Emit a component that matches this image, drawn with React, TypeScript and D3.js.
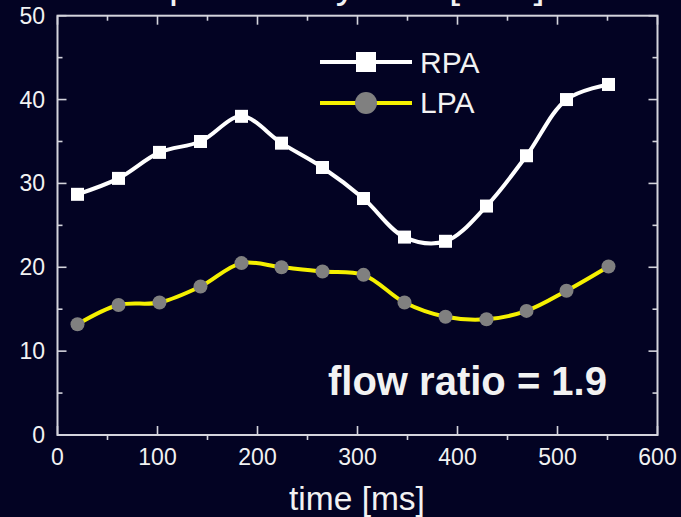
import React from "react";
import * as d3 from "d3";

const timesMs = [20, 61, 102, 143, 184, 224, 265, 306, 347, 388, 429, 469, 509, 551];
const rpaValues = [28.7, 30.6, 33.7, 35.0, 38.0, 34.8, 31.9, 28.2, 23.6, 23.1, 27.3, 33.3, 40.0, 41.8];
const lpaValues = [13.2, 15.5, 15.8, 17.7, 20.5, 20.0, 19.5, 19.1, 15.8, 14.1, 13.8, 14.8, 17.2, 20.1];
const xTickValues = [0, 100, 200, 300, 400, 500, 600];
const xMinorValues = [50, 150, 250, 350, 450, 550];
const yTickValues = [0, 10, 20, 30, 40, 50];
const yMinorValues = [5, 15, 25, 35, 45];
const seriesNames = ["RPA", "LPA"];

const W = 681;
const H = 517;
const M = { left: 57.5, right: 657.5, top: 15.7, bottom: 435 };
const BG = "#030323";
const AXIS = "#d4d4dc";
const TEXT = "#f2f2f2";
const FONT = "'Liberation Sans', Arial, sans-serif";

export default function App() {
  const x = d3.scaleLinear().domain([0, 600]).range([M.left, M.right]);
  const y = d3.scaleLinear().domain([0, 50]).range([M.bottom, M.top]);
  const line = d3
    .line<[number, number]>()
    .x((d) => x(d[0]))
    .y((d) => y(d[1]))
    .curve(d3.curveCatmullRom.alpha(0.5));
  const rpa: [number, number][] = timesMs.map((t, i) => [t, rpaValues[i]]);
  const lpa: [number, number][] = timesMs.map((t, i) => [t, lpaValues[i]]);
  const sq = 13;
  return (
    <svg
      width={W}
      height={H}
      style={{ position: "absolute", left: 0, top: 0, display: "block" }}
      fontFamily={FONT}
    >
      <rect x={0} y={0} width={W} height={H} fill={BG} />
      <text x={169} y={-2} fontSize={40} fill={TEXT}>
        pulmonary flow [ml/s]
      </text>
      <rect
        x={M.left}
        y={M.top}
        width={M.right - M.left}
        height={M.bottom - M.top}
        fill="none"
        stroke={AXIS}
        strokeWidth={2}
      />
      {xTickValues.map((t) => (
        <g key={"xt" + t}>
          <line x1={x(t)} x2={x(t)} y1={M.bottom} y2={M.bottom - 9} stroke={AXIS} strokeWidth={1.6} />
          <line x1={x(t)} x2={x(t)} y1={M.top} y2={M.top + 9} stroke={AXIS} strokeWidth={1.6} />
          <text x={x(t)} y={465} fontSize={23} fill={TEXT} textAnchor="middle">
            {t}
          </text>
        </g>
      ))}
      {xMinorValues.map((t) => (
        <g key={"xm" + t}>
          <line x1={x(t)} x2={x(t)} y1={M.bottom} y2={M.bottom + 5} stroke={AXIS} strokeWidth={1.6} />
          <line x1={x(t)} x2={x(t)} y1={M.top} y2={M.top + 5} stroke={AXIS} strokeWidth={1.6} />
        </g>
      ))}
      {yTickValues.map((v) => (
        <g key={"yt" + v}>
          <line x1={M.left} x2={M.left + 9} y1={y(v)} y2={y(v)} stroke={AXIS} strokeWidth={1.6} />
          <line x1={M.right} x2={M.right - 9} y1={y(v)} y2={y(v)} stroke={AXIS} strokeWidth={1.6} />
          <text x={45} y={y(v) + 8} fontSize={23} fill={TEXT} textAnchor="end">
            {v}
          </text>
        </g>
      ))}
      {yMinorValues.map((v) => (
        <g key={"ym" + v}>
          <line x1={M.left} x2={M.left + 5} y1={y(v)} y2={y(v)} stroke={AXIS} strokeWidth={1.6} />
          <line x1={M.right} x2={M.right - 5} y1={y(v)} y2={y(v)} stroke={AXIS} strokeWidth={1.6} />
        </g>
      ))}
      <text x={357} y={510} fontSize={33.5} fill={TEXT} textAnchor="middle">
        time [ms]
      </text>
      <path d={line(rpa) || ""} fill="none" stroke="#ffffff" strokeWidth={4} />
      {rpa.map((d, i) => (
        <rect key={"r" + i} x={x(d[0]) - sq / 2} y={y(d[1]) - sq / 2} width={sq} height={sq} fill="#ffffff" />
      ))}
      <path d={line(lpa) || ""} fill="none" stroke="#f5f000" strokeWidth={4} />
      {lpa.map((d, i) => (
        <circle key={"l" + i} cx={x(d[0])} cy={y(d[1])} r={7} fill="#808080" />
      ))}
      <line x1={320} x2={412} y1={62} y2={62} stroke="#ffffff" strokeWidth={4} />
      <rect x={356} y={52} width={20} height={20} fill="#ffffff" />
      <text x={420} y={73} fontSize={30} fill={TEXT}>
        {seriesNames[0]}
      </text>
      <line x1={320} x2={412} y1={103} y2={103} stroke="#f5f000" strokeWidth={4} />
      <circle cx={366} cy={103} r={11} fill="#808080" />
      <text x={420} y={113} fontSize={30} fill={TEXT}>
        {seriesNames[1]}
      </text>
      <text x={328} y={395} fontSize={40} fontWeight="bold" fill={TEXT}>
        flow ratio = 1.9
      </text>
    </svg>
  );
}
